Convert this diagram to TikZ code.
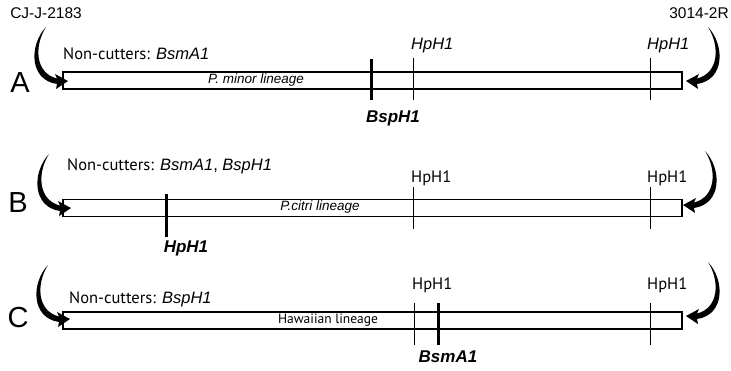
\documentclass[tikz,border=0pt]{standalone}
\usepackage{fontspec}
\setmainfont{Liberation Sans}
\newfontfamily\myr{PT Sans}
\begin{document}
\begin{tikzpicture}[x=1pt,y=-1pt,
  bar/.style={draw, line width=1.6pt, minimum width=619pt, minimum height=17pt, inner sep=0pt},
  thin/.style={line width=0.9pt},
  thick/.style={line width=3pt},
  lin/.style={font=\fontsize{13.5}{14}\selectfont, inner sep=0pt},
  site/.style={font=\fontsize{16.5}{18}\selectfont, inner sep=0pt, anchor=west},
  bold/.style={font=\fontsize{17}{18}\selectfont\bfseries\itshape, inner sep=0pt},
  nc/.style={font=\fontsize{16.5}{18}\selectfont, inner sep=0pt, anchor=west},
  big/.style={font=\fontsize{29}{30}\selectfont, inner sep=0pt},
  head/.style={font=\fontsize{15.5}{16}\selectfont, inner sep=0pt},
  curlarrow/.pic={
    \fill (0,0) .. controls (-17,18) and (-17,53) .. (11,57)
      -- (10,62) -- (22,54) -- (9,47) -- (11,51.5)
      .. controls (-11,46) and (-12,19) .. (0,0) -- cycle;
  }]
\useasboundingbox (0,0) rectangle (731,370);

% headings
\node[head] (cj) at (46,13) {CJ-J-2183};
\node[head] (r3) at (699,13) {3014-2R};

% row letters
\node[big] (la) at (20,83) {A};
\node[big] (lb) at (18,203) {B};
\node[big] (lc) at (18,318) {C};

% bars
\node[bar] (barA) at (372.5,80.5) {};
\node[bar] (barB) at (372.5,208) {};
\node[bar] (barC) at (372.5,320.5) {};

% lineage labels
\node[lin] (linA) at (256,80) {\itshape P. minor lineage};
\node[lin] (linB) at (320,207.5) {\itshape P.citri lineage};
\node[lin] (linC) at (328,320.5) {\myr Hawaiian lineage};

% non-cutters
\node[nc] (ncA) at (63,54) {{\myr Non-cutters:} \textit{BsmA1}};
\node[nc] (ncB) at (67,166) {{\myr Non-cutters:} \textit{BsmA1}, \textit{BspH1}};
\node[nc] (ncC) at (69,299) {{\myr Non-cutters:} \textit{BspH1}};

% row A sites
\draw[thin] (413,58) -- (413,100);
\draw[thin] (650,58) -- (650,100);
\draw[thick] (371,59) -- (371,100);
\node[site] (hA1) at (411,46) {\itshape HpH1};
\node[site] (hA2) at (647,46) {\itshape HpH1};
\node[bold] (bA) at (393,118) {BspH1};

% row B sites
\draw[thin] (413,187) -- (413,229);
\draw[thin] (650,187) -- (650,229);
\draw[thick] (166,194) -- (166,237);
\node[site] (hB1) at (411,178) {\myr HpH1};
\node[site] (hB2) at (647,178) {\myr HpH1};
\node[bold] (bB) at (186,248) {HpH1};

% row C sites
\draw[thin] (414,303) -- (414,345);
\draw[thin] (650,303) -- (650,345);
\draw[thick] (438,303) -- (438,345);
\node[site] (hC1) at (412,285) {\myr HpH1};
\node[site] (hC2) at (647,285) {\myr HpH1};
\node[bold] (bC) at (448,357) {BsmA1};

% curled arrows
\pic at (46,27) {curlarrow};
\pic[xscale=-1] at (708,27) {curlarrow};
\pic at (49,154) {curlarrow};
\pic[xscale=-1] at (705,151) {curlarrow};
\pic at (48,265) {curlarrow};
\pic[xscale=-1] at (708,262) {curlarrow};
\end{tikzpicture}
\end{document}
